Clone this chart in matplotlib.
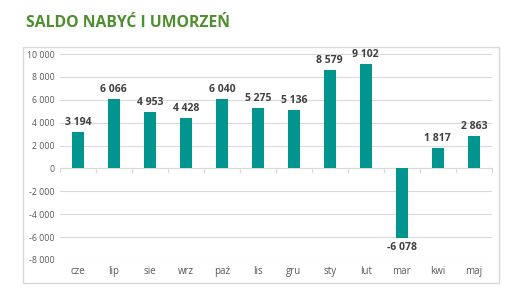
import matplotlib
matplotlib.use("Agg")
import matplotlib.pyplot as plt
from matplotlib.patches import Rectangle
from matplotlib.ticker import FixedLocator, FuncFormatter
import numpy as np

categories = ["cze", "lip", "sie", "wrz", "paź", "lis", "gru", "sty", "lut", "mar", "kwi", "maj"]
values = [3194, 6066, 4953, 4428, 6040, 5275, 5136, 8579, 9102, -6078, 1817, 2863]
yticks = list(range(-8000, 10001, 2000))
title = "SALDO NABYĆ I UMORZEŃ"

def fmt(v):
    s = f"{abs(int(v)):,}".replace(",", " ")
    return ("-" if v < 0 else "") + s

plt.rcParams['font.family'] = ['Open Sans', 'DejaVu Sans']

fig = plt.figure(figsize=(5.16, 2.97), dpi=100)
fig.patch.set_facecolor("white")

# outer chart frame
fig.patches.append(Rectangle((0.0446, 0.047), 0.922, 0.795, transform=fig.transFigure,
                             fill=False, edgecolor="#d9d9d9", linewidth=1.0))

fig.text(0.05, 0.922, title, color="#4f8f2f", fontsize=11.3, fontweight="bold",
         ha="left", va="center")

ax = fig.add_axes([0.116, 0.1246, 0.837, 0.6934])
x = np.arange(len(categories))
ax.bar(x, values, width=0.32, color="#00968f", zorder=3)
ax.set_ylim(-8000, 10000)
ax.set_xlim(-0.5, len(categories) - 0.5)
ax.yaxis.set_major_locator(FixedLocator(yticks))
ax.yaxis.set_major_formatter(FuncFormatter(lambda v, p: fmt(v)))
ax.grid(axis="y", color="#d9d9d9", linewidth=0.8, zorder=0)
for s in ax.spines.values():
    s.set_visible(False)
ax.tick_params(axis="y", length=0, labelsize=6.3, labelcolor="#595959", pad=4)
ax.set_xticks(x)
ax.set_xticklabels(categories)
ax.tick_params(axis="x", length=0, labelsize=7, labelcolor="#595959", pad=4)
# zero line with category boundary ticks
ax.axhline(0, color="#d9d9d9", linewidth=0.8, zorder=2)
for b in np.arange(-0.5, len(categories) + 0.5, 1):
    ax.plot([b, b], [0, -300], color="#d9d9d9", linewidth=0.8, zorder=2, clip_on=False)

for xi, v in zip(x, values):
    if v >= 0:
        ax.annotate(fmt(v), (xi, v), xytext=(0, 3), textcoords="offset points",
                    ha="center", va="bottom", fontsize=7.5, fontweight="bold", color="#404040")
    else:
        ax.annotate(fmt(v), (xi, v), xytext=(0, -3), textcoords="offset points",
                    ha="center", va="top", fontsize=7.5, fontweight="bold", color="#404040")

fig.savefig("out.png", dpi=100, facecolor="white")
